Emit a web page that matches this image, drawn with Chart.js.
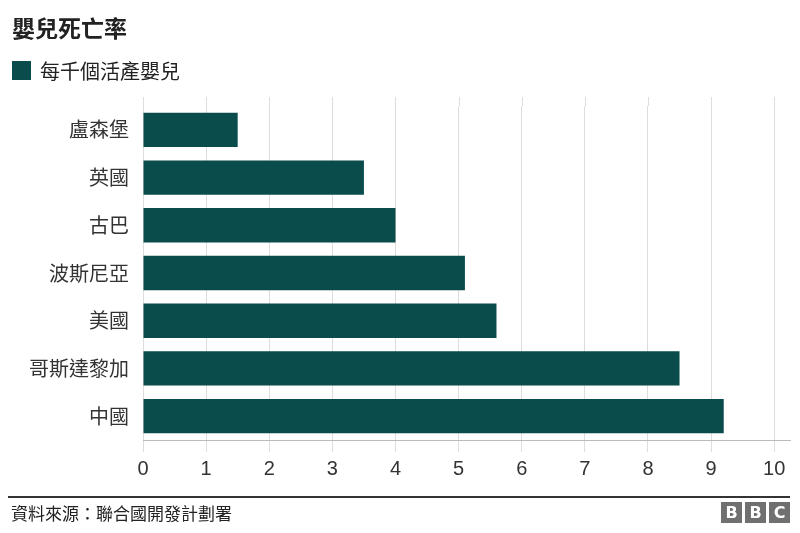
<!DOCTYPE html>
<html>
<head>
<meta charset="utf-8">
<script src="https://cdn.jsdelivr.net/npm/chart.js@4"></script>
<style>
  body { margin: 0; width: 800px; height: 533px; background: #fff; position: relative; overflow: hidden;
         font-family: "Noto Sans CJK TC", "Noto Sans", sans-serif; color: #222; }
  #title { position: absolute; left: 12px; top: 10px; font-size: 23px; font-weight: bold; }
  #legend { position: absolute; left: 12px; top: 56px; font-size: 20px; display: flex; align-items: center; }
  #legend span.box { width: 19px; height: 19px; background: #0a4b4b; margin-right: 9px; }
  #wrap { position: absolute; left: 0; top: 0; width: 800px; height: 533px; }
  #rule { position: absolute; left: 8px; top: 496px; width: 782px; height: 2px; background: #333; }
  #source { position: absolute; left: 11px; top: 500px; font-size: 17px; color: #222; }
  #bbc { position: absolute; right: 10px; top: 502px; display: flex; gap: 3px; }
  #bbc div { width: 21px; height: 21px; background: #707070; color: #fff; font-family: "DejaVu Sans", sans-serif;
             font-weight: bold; font-size: 16px; line-height: 21px; text-align: center; }
</style>
</head>
<body>
<div id="wrap"><canvas id="chart"></canvas></div>
<div id="title">嬰兒死亡率</div>
<div id="legend"><span class="box"></span><span id="legend-label"></span></div>
<div id="rule"></div>
<div id="source">資料來源：聯合國開發計劃署</div>
<div id="bbc"><div>B</div><div>B</div><div>C</div></div>
<script>
const seriesName = '每千個活產嬰兒';
const countries = ['盧森堡', '英國', '古巴', '波斯尼亞', '美國', '哥斯達黎加', '中國'];
const infantDeaths = [1.5, 3.5, 4.0, 5.1, 5.6, 8.5, 9.2];
const xTicks = [0, 1, 2, 3, 4, 5, 6, 7, 8, 9, 10];

document.getElementById('legend-label').textContent = seriesName;

// grid lines in the original start a little above the first bar
const gridAbove = {
    id: 'gridAbove',
    beforeDatasetsDraw(chart) {
        const ctx = chart.ctx;
        const x = chart.scales.x;
        ctx.save();
        ctx.strokeStyle = '#dddddd';
        ctx.lineWidth = 1;
        xTicks.forEach(function (t) {
            const px = Math.round(x.getPixelForValue(t)) + 0.5;
            ctx.beginPath();
            ctx.moveTo(px, chart.chartArea.top - 9);
            ctx.lineTo(px, chart.chartArea.top);
            ctx.stroke();
        });
        ctx.restore();
    }
};

new Chart(document.getElementById('chart').getContext('2d'), {
    type: 'bar',
    data: {
        labels: countries,
        datasets: [{
            label: seriesName,
            data: infantDeaths,
            backgroundColor: '#0a4b4b',
            barPercentage: 0.72,
            categoryPercentage: 1
        }]
    },
    options: {
        indexAxis: 'y',
        responsive: true,
        maintainAspectRatio: false,
        animation: false,
        layout: {
            padding: { left: 0, top: 106, right: 10, bottom: 55 }
        },
        scales: {
            x: {
                min: 0,
                max: 10.25,
                afterBuildTicks: function (scale) {
                    scale.ticks = xTicks.map(function (v) { return { value: v }; });
                },
                afterFit: function (scale) { scale.height = 38; },
                grid: { color: '#dddddd', tickLength: 12 },
                border: { color: '#bbbbbb' },
                ticks: {
                    color: '#333',
                    padding: 5,
                    font: { size: 20, family: '"Liberation Sans", "DejaVu Sans", sans-serif' }
                }
            },
            y: {
                afterFit: function (scale) { scale.width = 143; },
                grid: { display: false },
                border: { display: false },
                ticks: {
                    color: '#333',
                    padding: 6,
                    font: { size: 20, family: '"Noto Sans CJK TC", sans-serif' }
                }
            }
        },
        plugins: {
            legend: { display: false },
            tooltip: { enabled: false }
        }
    },
    plugins: [gridAbove]
});
</script>
</body>
</html>
